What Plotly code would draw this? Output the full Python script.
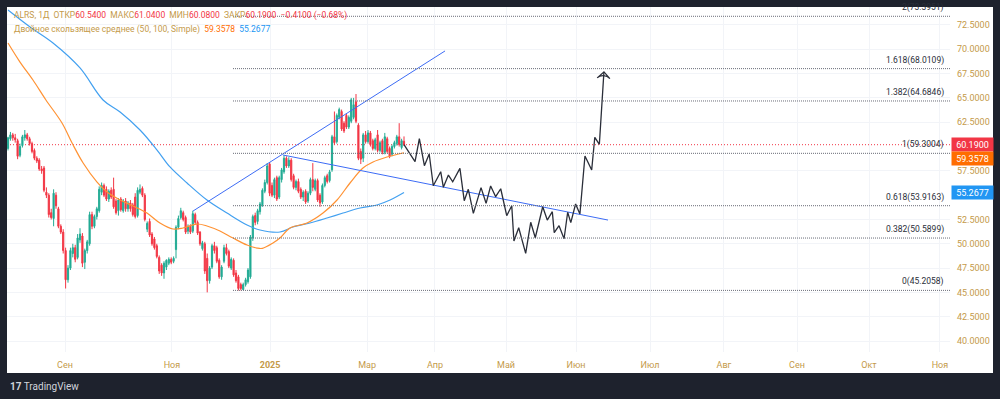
import plotly.graph_objects as go

# ---------------- data ----------------
opens = [59.8,60.8,61.2,60.9,60.6,59.1,60.1,60.9,61.2,60.8,
 60.3,59.6,58.8,58.6,57.7,57.8,55.3,55.0,53.2,52.6,
 55.0,53.6,51.8,51.2,49.3,46.3,47.5,49.0,49.6,48.6,
 50.4,50.8,48.1,49.3,50.0,53.0,51.8,52.8,53.4,55.3,
 56.0,55.6,54.6,55.5,55.6,54.4,53.4,54.6,53.4,54.4,
 53.6,54.2,54.0,54.8,52.9,55.3,55.7,55.0,51.5,52.3,
 51.0,50.5,49.8,48.6,47.8,47.0,47.6,48.0,48.4,48.2,
 49.4,51.7,52.7,53.2,52.7,51.3,51.8,51.3,53.0,52.2,
 51.2,49.5,50.0,48.5,46.2,47.6,49.8,49.6,48.3,46.6,
 48.2,49.6,49.2,47.5,48.3,47.0,46.6,45.8,45.3,45.8,
 46.1,46.6,50.6,52.9,52.3,53.3,54.0,55.4,56.3,58.2,
 56.0,55.0,56.8,54.8,56.6,57.4,58.8,58.0,58.6,57.0,
 55.8,56.4,55.6,54.8,55.4,54.4,55.2,56.6,55.6,56.5,
 55.0,54.3,56.0,57.0,56.5,57.6,61.0,60.5,63.0,63.6,
 62.4,63.2,62.0,62.6,63.0,64.6,62.2,59.5,58.8,61.2,
 60.5,61.4,60.6,59.8,61.2,59.6,60.6,59.4,60.8,59.8,
 59.2,60.0,60.3,61.0,59.9,60.54]
highs = [61.0,61.5,61.4,61.3,60.8,60.3,61.2,61.7,61.4,61.0,
 60.5,59.8,59.0,58.8,58.0,58.0,55.8,55.2,53.6,55.6,
 55.3,53.8,52.0,51.5,49.6,47.8,49.6,50.0,49.9,51.0,
 51.6,51.1,49.5,50.4,53.3,53.3,53.0,53.8,55.9,56.3,
 56.2,55.9,55.6,55.8,56.8,54.6,54.7,54.8,54.6,54.7,
 54.4,54.5,54.2,55.2,55.8,56.1,55.9,55.2,52.3,52.6,
 51.2,50.7,50.0,48.8,48.0,48.2,48.4,48.6,48.6,48.7,
 51.9,52.9,53.7,53.4,52.9,52.0,52.0,53.4,53.2,52.4,
 51.3,50.3,50.2,49.0,47.7,50.0,50.2,49.8,48.5,47.8,
 49.9,50.0,49.4,48.6,48.5,47.3,46.8,46.0,46.0,46.5,
 47.5,50.9,53.0,53.2,53.6,54.3,55.7,56.6,58.3,58.4,
 56.3,56.8,57.0,57.0,57.8,59.1,59.0,58.9,58.8,57.2,
 56.6,56.7,55.8,55.5,55.6,55.4,56.8,58.3,56.7,56.7,
 55.2,56.2,57.0,57.2,57.6,61.2,63.6,63.4,64.0,63.8,
 62.6,63.4,63.2,65.0,65.0,65.4,62.4,59.8,61.4,61.6,
 61.7,61.6,60.8,60.9,61.7,60.6,60.8,61.4,61.0,60.0,
 60.2,60.6,61.2,62.4,60.8,61.04]
lows = [59.6,60.6,60.6,60.4,58.7,58.9,59.9,60.6,60.6,60.1,
 59.3,58.6,58.3,57.5,57.2,55.3,54.7,52.7,52.5,51.8,
 53.6,51.6,51.0,49.0,45.4,46.0,47.3,48.6,48.1,48.4,
 50.1,47.6,47.4,49.0,49.8,51.5,51.6,52.5,53.2,55.0,
 54.8,54.4,54.3,54.6,53.6,53.0,52.9,53.3,53.2,53.3,
 53.3,53.3,52.8,52.6,52.7,55.1,54.8,52.3,51.2,50.7,
 49.8,49.4,48.5,46.9,46.7,46.4,47.3,47.8,47.9,48.0,
 48.5,51.5,52.5,52.3,51.0,51.0,51.0,51.1,52.0,50.9,
 49.8,49.3,46.9,45.0,45.9,47.4,49.0,48.0,46.4,46.3,
 48.0,48.8,47.5,47.3,46.6,46.0,45.2,45.21,45.25,45.6,
 45.9,46.4,50.3,51.9,52.0,53.0,53.8,55.2,56.1,54.9,
 54.8,54.7,54.4,54.6,56.3,57.2,57.8,57.8,56.4,55.6,
 55.5,55.2,54.6,54.4,54.1,54.2,55.0,55.4,55.4,54.3,
 53.8,54.1,55.8,56.2,56.3,57.4,60.2,60.3,62.8,61.6,
 61.4,61.8,61.8,62.4,62.8,62.4,58.6,58.2,58.4,60.3,
 60.3,60.0,59.6,59.6,59.4,59.4,59.2,59.2,59.3,58.8,
 59.0,59.8,60.1,60.0,59.7,60.08]
closes = [60.9,61.2,60.9,60.7,59.0,60.0,61.0,61.2,60.8,60.3,
 59.5,58.8,58.5,57.7,57.5,55.5,55.0,53.0,52.7,55.2,
 53.9,51.8,51.2,49.3,46.3,47.5,49.3,49.6,48.4,50.6,
 51.0,48.0,49.3,50.2,53.0,51.8,52.8,53.6,55.6,56.0,
 55.0,54.6,55.4,54.8,53.8,53.2,54.5,53.5,54.4,53.6,
 54.2,53.6,53.0,52.8,55.5,55.6,55.0,52.5,52.1,50.9,
 50.0,49.6,48.7,47.2,47.0,48.0,48.3,48.4,48.1,48.5,
 51.7,52.6,53.4,52.5,51.2,51.8,51.2,53.1,52.2,51.1,
 50.0,50.1,47.2,46.2,47.5,49.8,49.3,48.2,46.6,47.6,
 49.6,49.0,47.7,48.4,46.8,46.2,45.4,45.4,45.8,46.3,
 47.3,50.7,52.8,52.2,53.4,54.1,55.5,56.3,58.0,55.2,
 55.0,56.6,54.6,56.8,57.6,58.8,58.0,58.6,56.6,55.8,
 56.4,55.4,54.8,55.3,54.3,55.2,56.6,55.8,56.5,54.5,
 54.2,56.0,56.8,56.4,57.4,61.0,60.4,63.2,63.8,61.8,
 61.6,62.0,63.0,64.8,64.3,62.6,58.8,58.7,61.2,60.5,
 61.4,60.2,59.8,60.7,59.6,60.4,59.4,61.0,59.5,59.0,
 60.0,60.4,61.0,60.2,60.6,60.19]
bars = list(range(len(closes)))

ma50_bars = [0, 5, 10.4, 15.8, 22.5, 26.7, 31.3, 37.1, 41.3, 46.7, 52.1, 57.9, 63.3, 68.75,
             72.9, 78.75, 82.9, 88.3, 93.75, 99.6, 103.75, 106, 110.4, 113.3, 117.5, 124.6,
             131.25, 137.1, 142.5, 147.9, 152.1, 157.9, 165]
ma50_vals = [70.65, 68.69, 66.84, 64.79, 62.42, 60.36, 58.31, 56.35, 55.32, 54.50, 53.88, 53.16,
             52.14, 51.52, 51.62, 52.03, 51.83, 51.31, 50.59, 49.87, 49.56, 49.53, 50.08, 50.59,
             51.62, 52.14, 53.16, 54.50, 56.25, 57.79, 58.41, 58.92, 59.3578]
ma100_bars = [0, 9.2, 18.75, 30, 39.6, 46.7, 55, 62.1, 67.5, 74.6, 82.9, 91.25, 99.6, 105,
              113.3, 118.75, 125.8, 132.9, 139.6, 146.7, 153.75, 159.2, 165]
ma100_vals = [74.04, 72.29, 70.65, 68.08, 64.79, 63.55, 61.70, 59.64, 57.90, 56.25, 54.50,
              53.16, 51.93, 51.42, 51.21, 51.72, 52.14, 52.65, 53.16, 53.68, 53.99, 54.50, 55.2677]

proj_bars = [165, 169.6, 171.4, 173.5, 175.5, 177.2, 180.3, 181.4, 183.5, 185.3, 188.3, 190.1,
             191.8, 193.9, 197.1, 199.2, 201.1, 203.2, 205.3, 207.8, 209.9, 210.8, 212.8, 215.7,
             217.8, 219.7, 222.8, 224.7, 226.8, 227.6, 229.6, 231.7, 233.2, 234.5, 236.5, 238.3,
             240.4, 243.2, 244.5, 246.4, 248.3]
proj_prices = [60.19, 58.44, 60.81, 58.03, 59.23, 55.97, 57.41, 55.81, 57.07, 56.38, 57.76, 54.43,
               55.60, 53.13, 55.77, 54.16, 55.94, 54.84, 55.66, 52.89, 53.91, 50.28, 51.65, 49.02,
               52.21, 50.62, 53.81, 52.44, 53.30, 51.14, 51.86, 50.52, 53.24, 52.17, 54.09, 53.06,
               59.03, 57.59, 60.95, 60.23, 67.67]

up_line_bars = [77.1, 182.1]
up_line_prices = [53.37, 69.83]
down_line_bars = [114.6, 250.0]
down_line_prices = [59.13, 52.44]

fib_ratios = ["0", "0.382", "0.618", "1", "1.382", "1.618", "2"]
fib_levels = [45.2058, 50.5899, 53.9163, 59.3004, 64.6846, 68.0109, 73.3951]
fib_start_bar = 93.75

last_close = 60.19
ma50_last = 59.3578
ma100_last = 55.2677

# price ticks visible on the scale (60.0 and 55.0 sit under the price tags)
price_ticks = [40.0, 42.5, 45.0, 47.5, 50.0, 52.5, 57.5, 62.5, 65.0, 67.5, 70.0, 72.5]

tick_bars = [23.75, 68.3, 109.2, 149.6, 177.9, 207.5, 236.7, 267.5, 298.3, 328.75, 358.75, 388.3]
tick_labels = ["Сен", "Ноя", "<b>2025</b>", "Мар", "Апр", "Май", "Июн", "Июл", "Авг", "Сен", "Окт", "Ноя"]

# ---------------- style ----------------
W, H = 1000, 399
L, R, T, B = 7, 50, 7, 47
pw, ph = W - L - R, H - T - B
def px_x(px):
    return (px - L) / pw
def px_y(py):
    return 1 - (py - T) / ph

DARK = "#1e222d"
GOLD = "#c49a4a"
UP = "#22ab94"
DN = "#f23645"
ORANGE = "#ff9233"
BLUE = "#42a0f0"
TREND = "#3d6cf5"
GRID = "#f2f4f8"
FONT = "Roboto"

fig = go.Figure()

fig.add_trace(go.Scatter(x=ma100_bars, y=ma100_vals, mode="lines", line=dict(color=BLUE, width=1.2, shape="spline"),
                         hoverinfo="skip", showlegend=False))
fig.add_trace(go.Scatter(x=ma50_bars, y=ma50_vals, mode="lines", line=dict(color=ORANGE, width=1.2, shape="spline"),
                         hoverinfo="skip", showlegend=False))
fig.add_trace(go.Candlestick(x=bars, open=opens, high=highs, low=lows, close=closes,
                             increasing=dict(line=dict(color=UP, width=1), fillcolor=UP),
                             decreasing=dict(line=dict(color=DN, width=1), fillcolor=DN),
                             whiskerwidth=0, showlegend=False, hoverinfo="skip"))
fig.add_trace(go.Scatter(x=up_line_bars, y=up_line_prices, mode="lines", line=dict(color=TREND, width=1),
                         hoverinfo="skip", showlegend=False))
fig.add_trace(go.Scatter(x=down_line_bars, y=down_line_prices, mode="lines", line=dict(color=TREND, width=1),
                         hoverinfo="skip", showlegend=False))
n = len(proj_bars)
fig.add_trace(go.Scatter(x=proj_bars, y=proj_prices, mode="lines+markers",
                         line=dict(color="#2a2e39", width=1.3),
                         marker=dict(symbol="arrow-wide-open", angleref="previous", color="#2a2e39",
                                     size=[0] * (n - 1) + [9], opacity=[0] * (n - 1) + [1],
                                     line=dict(color="#2a2e39", width=1.2)),
                         hoverinfo="skip", showlegend=False))

shapes = []
# white panel
shapes.append(dict(type="rect", xref="paper", yref="paper", x0=px_x(7), x1=px_x(993), y0=px_y(373), y1=px_y(7),
                   fillcolor="white", line=dict(width=0), layer="below"))
# fib lines
for lv in fib_levels:
    shapes.append(dict(type="line", xref="x", yref="y", x0=fib_start_bar, x1=500, y0=lv, y1=lv,
                       line=dict(color="#6a6d78", width=1, dash="1px,1px"), layer="above"))
# last price line
shapes.append(dict(type="line", xref="paper", yref="y", x0=0, x1=1, y0=last_close, y1=last_close,
                   line=dict(color=DN, width=1, dash="1px,2px"), layer="below"))

annotations = []
for r_, lv in zip(fib_ratios, fib_levels):
    annotations.append(dict(xref="paper", yref="y", x=px_x(946), y=lv, xanchor="right", yanchor="bottom",
                            yshift=1, text=f"{r_}({lv:.4f})", showarrow=False,
                            font=dict(family=FONT, size=8.5, color="#2a2e39")))

# price tags
for val, col, ys in [(last_close, "#f23645", 0), (ma50_last, "#ff6d00", -6), (ma100_last, "#2196f3", 0)]:
    annotations.append(dict(xref="paper", yref="y", x=px_x(951), y=val, xanchor="left", yanchor="middle",
                            yshift=ys, text=f"{val:.4f}", showarrow=False, bgcolor=col, width=39, height=11,
                            borderpad=1, font=dict(family=FONT, size=9, color="white")))

# legend lines
nb = "\u00a0"
red = lambda s: f"<span style='color:{DN}'>{s}</span>"
line1 = (f"ALRS, 1Д{nb}{nb}ОТКР{red('60.5400')}{nb}{nb}МАКС{red('61.0400')}{nb}{nb}МИН{red('60.0800')}"
         f"{nb}{nb}ЗАКР{red('60.1900')}{nb}{nb}{red('−0.4100 (−0.68%)')}")
line2 = (f"Двойное скользящее среднее (50, 100, Simple){nb}{nb}<span style='color:#ff6d00'>59.3578</span>"
         f"{nb}{nb}<span style='color:#2196f3'>55.2677</span>")
annotations.append(dict(xref="paper", yref="paper", x=px_x(12), y=px_y(16), xanchor="left", yanchor="middle",
                        text=line1, showarrow=False, font=dict(family=FONT, size=8.5, color=GOLD)))
annotations.append(dict(xref="paper", yref="paper", x=px_x(12), y=px_y(29), xanchor="left", yanchor="middle",
                        text=line2, showarrow=False, font=dict(family=FONT, size=8.5, color=GOLD)))
# logo
annotations.append(dict(xref="paper", yref="paper", x=px_x(8), y=px_y(386), xanchor="left", yanchor="middle",
                        text="<b>17</b> TradingView", showarrow=False,
                        font=dict(family=FONT, size=10, color="#d1d4dc")))

fig.update_layout(
    width=W, height=H,
    margin=dict(l=L, r=R, t=T, b=B),
    paper_bgcolor=DARK, plot_bgcolor="white",
    shapes=shapes, annotations=annotations,
    showlegend=False,
    xaxis=dict(range=[-0.42, 392.5], tickvals=tick_bars, ticktext=tick_labels, showgrid=True,
               gridcolor=GRID, gridwidth=1, zeroline=False, showline=False, ticks="",
               tickfont=dict(family=FONT, size=9, color=GOLD), rangeslider=dict(visible=False),
               ticklabelstandoff=6, fixedrange=True),
    yaxis=dict(range=[38.87, 74.35], side="right", tickvals=price_ticks, tickformat=".4f", showgrid=True,
               gridcolor=GRID, gridwidth=1, zeroline=False, showline=False, ticks="",
               tickfont=dict(family=FONT, size=9, color=GOLD), ticklabelstandoff=6, fixedrange=True),
)

fig.write_html("out.html", config={"displayModeBar": False},
               post_script="document.body.style.margin='0';document.body.style.overflow='hidden';")
